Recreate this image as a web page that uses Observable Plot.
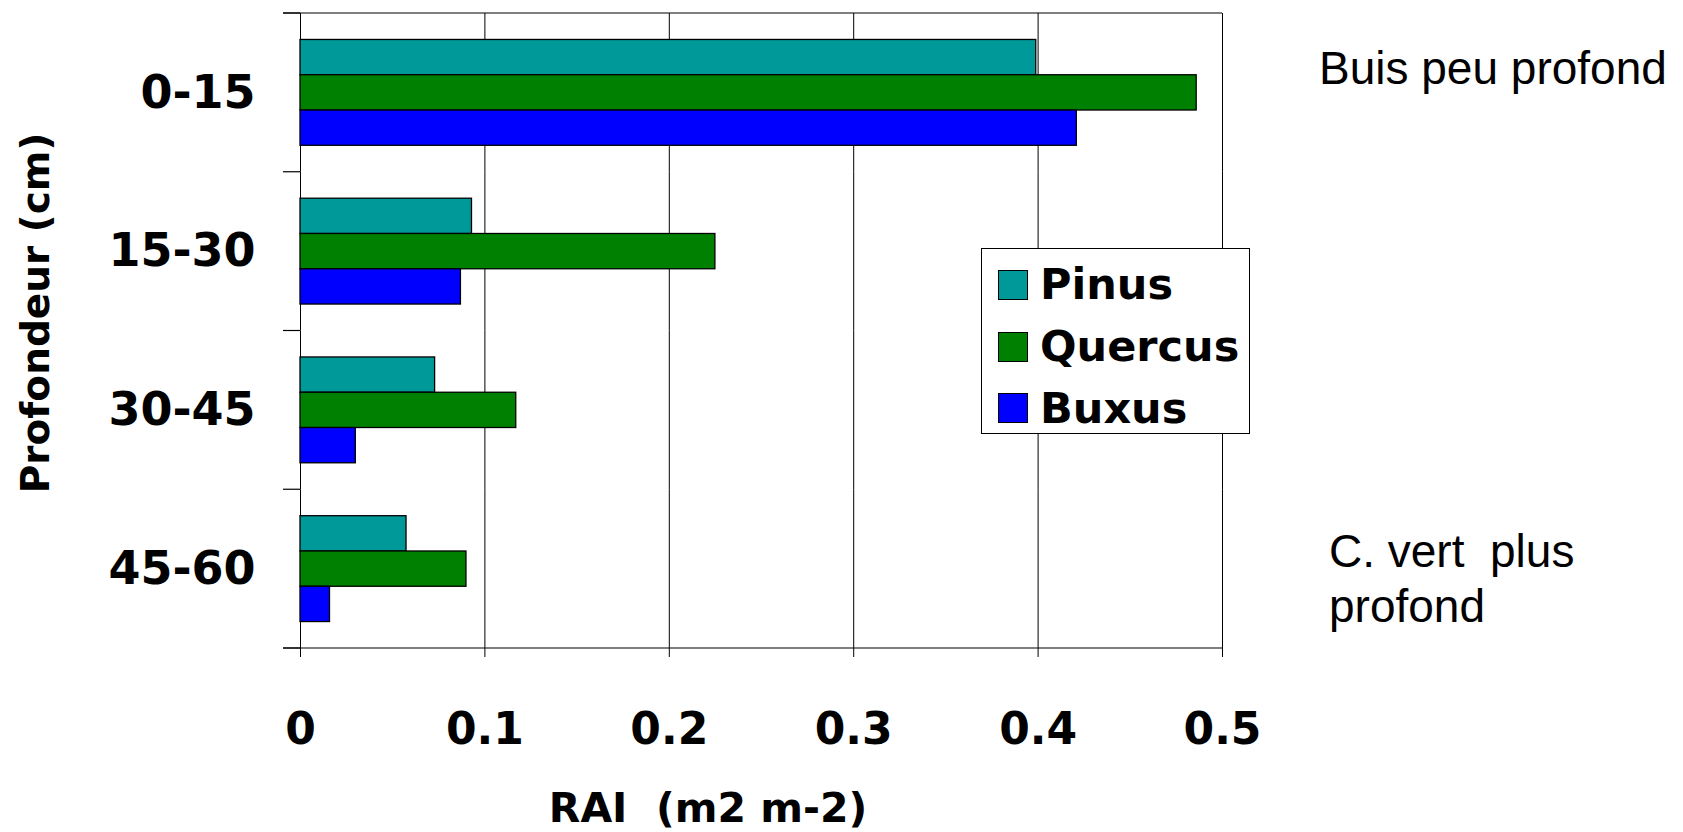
<!DOCTYPE html>
<html>
<head>
<meta charset="utf-8">
<script src="https://cdn.jsdelivr.net/npm/d3@7"></script>
<script src="https://cdn.jsdelivr.net/npm/@observablehq/plot@0.6"></script>
<style>
html, body { margin: 0; padding: 0; background: #fff; }
#wrap { position: relative; width: 1683px; height: 832px; overflow: hidden; background: #fff; }
#chart svg { display: block; }
.ann { position: absolute; font-family: "Liberation Sans", Arial, sans-serif; font-size: 46px; color: #000; white-space: pre; }
.title { position: absolute; font-family: "DejaVu Sans", sans-serif; font-weight: bold; color: #000; white-space: pre; line-height: 1; }
#legend { position: absolute; left: 981px; top: 248px; width: 269px; height: 186px; box-sizing: border-box;
  border: 1px solid #000; background: #fff; padding: 5px 0 0 16px; }
.row { display: flex; align-items: center; height: 61.7px; }
.sw { width: 30px; height: 30px; box-sizing: border-box; border: 1px solid #000; margin-right: 12px; }
.lab { font-family: "DejaVu Sans", sans-serif; font-weight: bold; font-size: 43px; line-height: 1; color: #000; }
</style>
</head>
<body>
<div id="wrap">
  <div id="chart"></div>
  <div id="legend"></div>
  <div class="title" id="ytitle" style="left:35px; top:313px; font-size:39px; transform: translate(-50%,-50%) rotate(-90deg);"></div>
  <div class="title" id="xtitle" style="left:708px; top:788px; font-size:41px; transform: translateX(-50%);"></div>
  <div class="ann" id="ann1" style="left:1319px; top:45px; line-height:46px;"></div>
  <div class="ann" id="ann2" style="left:1329px; top:524px; line-height:55px;"></div>
</div>
<script>
// ---- Data ----
const depths = ["0-15", "15-30", "30-45", "45-60"];
const species = ["Pinus", "Quercus", "Buxus"];
const pinus   = [0.399, 0.093, 0.073, 0.0575];
const quercus = [0.486, 0.225, 0.117, 0.090];
const buxus   = [0.421, 0.087, 0.030, 0.016];
const colors = ["#009999", "#008000", "#0000ff"];
const xTicks = [0, 0.1, 0.2, 0.3, 0.4, 0.5];
const xTickLabels = ["0", "0.1", "0.2", "0.3", "0.4", "0.5"];
const xTitle = "RAI  (m2 m-2)";
const yTitle = "Profondeur (cm)";
const annTop = "Buis peu profond";
const annBottom = "C. vert  plus\nprofond";

const series = [pinus, quercus, buxus];
const data = depths.flatMap((d, i) => species.map((s, j) => ({depth: d, species: s, value: series[j][i]})));

const chart = Plot.plot({
  width: 1683,
  height: 832,
  marginTop: 13,
  marginRight: 461,
  marginBottom: 184,
  marginLeft: 300,
  style: {background: "transparent", color: "black", fontFamily: "'DejaVu Sans', sans-serif", overflow: "visible"},
  x: {domain: [0, 0.5]},
  y: {domain: species, paddingInner: 0, paddingOuter: 0.75, round: false, axis: null},
  fy: {domain: depths, padding: 0, round: false},
  color: {domain: species, range: colors},
  marks: [
    Plot.ruleX(xTicks, {stroke: "black", strokeWidth: 1}),
    Plot.barX(data, {x: "value", y: "species", fy: "depth", fill: "species", stroke: "black", strokeWidth: 1.3}),
    Plot.axisX(xTicks, {tickSize: 9, tickPadding: 55, tickFormat: d => xTickLabels[xTicks.indexOf(d)],
      fontSize: 44, fontWeight: "bold", label: null}),
    Plot.axisFy({anchor: "left", tickSize: 0, tickPadding: 45, fontSize: 46, fontWeight: "bold", label: null})
  ]
});
document.getElementById("chart").appendChild(chart);

// Category boundary ticks and top/bottom border lines, from Plot's own scales
const fyS = chart.scale("fy"), xS = chart.scale("x");
const xa = xS.apply(0), xb = xS.apply(0.5);
const bw = fyS.bandwidth;
const edges = depths.map(d => fyS.apply(d)).concat([fyS.apply(depths[depths.length - 1]) + bw]);
const g = d3.select(chart).append("g").attr("stroke", "black").attr("stroke-width", 1.2);
g.selectAll("line.edge").data(edges).join("line").attr("class", "edge")
  .attr("x1", xa - 17).attr("x2", xa).attr("y1", d => d).attr("y2", d => d);
g.append("line").attr("x1", xa - 17).attr("x2", xb).attr("y1", edges[0]).attr("y2", edges[0]);
g.append("line").attr("x1", xa - 17).attr("x2", xb).attr("y1", edges[edges.length - 1]).attr("y2", edges[edges.length - 1]);

// Legend
const legend = d3.select("#legend");
species.forEach((s, i) => {
  const row = legend.append("div").attr("class", "row");
  row.append("div").attr("class", "sw").style("background", colors[i]);
  row.append("div").attr("class", "lab").text(s);
});

document.getElementById("xtitle").textContent = xTitle;
document.getElementById("ytitle").textContent = yTitle;
document.getElementById("ann1").textContent = annTop;
document.getElementById("ann2").textContent = annBottom;
</script>
</body>
</html>
